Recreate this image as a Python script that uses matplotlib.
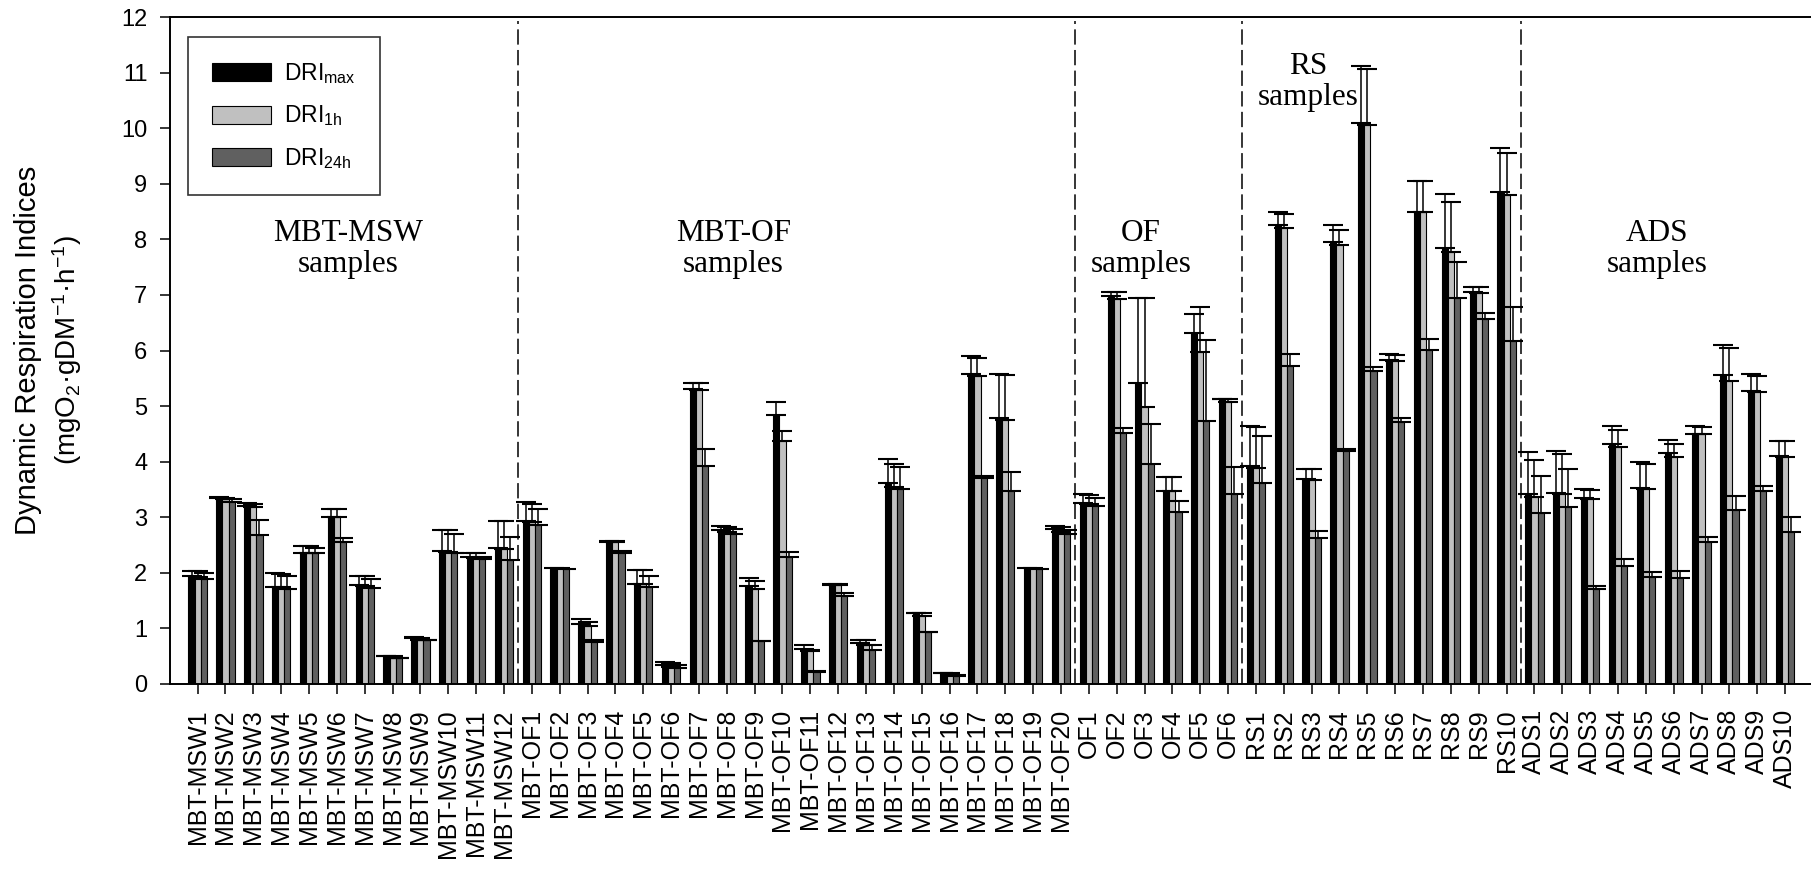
import numpy as np
import matplotlib.pyplot as plt

plt.rcParams['font.family'] = ['Liberation Sans', 'DejaVu Sans']
plt.rcParams['mathtext.default'] = 'regular'

# sample names per group
msw_names = ['MBT-MSW%d' % i for i in range(1, 13)]
mof_names = ['MBT-OF%d' % i for i in range(1, 21)]
of_names = ['OF%d' % i for i in range(1, 7)]
rs_names = ['RS%d' % i for i in range(1, 11)]
ads_names = ['ADS%d' % i for i in range(1, 11)]
labels = msw_names + mof_names + of_names + rs_names + ads_names

# DRImax (black bars)
dri_max = [1.94, 3.35, 3.21, 1.75, 2.36, 3.01, 1.79, 0.50, 0.83, 2.40, 2.29, 2.44,
           2.94, 2.08, 1.08, 2.56, 1.80, 0.34, 5.31, 2.77, 1.77, 4.84, 0.63, 1.79,
           0.73, 3.62, 1.27, 0.20, 5.58, 4.79, 2.08, 2.79,
           3.26, 6.98, 5.41, 3.48, 6.31, 5.12,
           3.93, 8.25, 3.69, 7.96, 10.10, 5.83, 8.50, 7.85, 7.05, 8.85,
           3.42, 3.44, 3.35, 4.32, 3.53, 4.16, 4.50, 5.56, 5.28, 4.10]
# DRI1h (light grey bars)
dri_1h = [1.93, 3.32, 3.18, 1.74, 2.35, 3.00, 1.77, 0.46, 0.79, 2.38, 2.27, 2.43,
          2.91, 2.08, 1.05, 2.55, 1.80, 0.31, 5.29, 2.74, 1.71, 4.38, 0.59, 1.78,
          0.71, 3.55, 1.23, 0.16, 5.54, 4.75, 2.08, 2.74,
          3.24, 6.92, 4.98, 3.47, 5.98, 5.08,
          3.88, 8.21, 3.67, 7.89, 10.06, 5.82, 8.49, 7.78, 7.04, 8.79,
          3.36, 3.41, 3.33, 4.27, 3.51, 4.08, 4.49, 5.46, 5.25, 4.08]
# DRI24h (dark grey bars)
dri_24h = [1.89, 3.27, 2.68, 1.71, 2.35, 2.56, 1.72, 0.46, 0.79, 2.35, 2.24, 2.23,
           2.86, 2.07, 0.76, 2.35, 1.74, 0.28, 3.92, 2.70, 0.77, 2.28, 0.22, 1.58,
           0.62, 3.51, 0.94, 0.15, 3.71, 3.47, 2.07, 2.70,
           3.20, 4.51, 3.96, 3.09, 4.74, 3.42,
           3.62, 5.73, 2.62, 4.20, 5.63, 4.71, 6.01, 6.94, 6.56, 6.17,
           3.08, 3.18, 1.71, 2.12, 1.93, 1.91, 2.55, 3.13, 3.48, 2.74]

nan = np.nan
# standard deviations (upper error bars only)
err_max = [0.10, 0.01, 0.04, 0.24, 0.13, 0.13, 0.16, 0.01, 0.01, 0.37, 0.07, 0.50,
           0.34, nan, 0.09, 0.01, 0.25, 0.06, 0.11, 0.08, 0.14, 0.23, 0.08, 0.01,
           0.07, 0.42, 0.00, 0.00, 0.33, 0.78, nan, 0.05,
           0.16, 0.08, 1.53, 0.25, 0.34, 0.00,
           0.72, 0.24, 0.18, 0.29, 1.01, 0.10, 0.55, 0.97, 0.10, 0.80,
           0.76, 0.75, 0.16, 0.32, 0.46, 0.23, 0.15, 0.53, 0.29, 0.27]
err_1h = [0.10, 0.03, 0.05, 0.24, 0.13, 0.14, 0.18, 0.04, 0.04, 0.39, 0.08, 0.51,
          0.33, nan, 0.07, 0.02, 0.25, 0.06, 0.12, 0.09, 0.15, 0.17, 0.02, 0.02,
          0.08, 0.40, 0.04, 0.04, 0.32, 0.81, nan, 0.08,
          0.16, 0.13, 1.96, 0.26, 0.80, 0.04,
          0.75, 0.25, 0.19, 0.27, 1.00, 0.10, 0.56, 0.89, 0.11, 0.76,
          0.67, 0.72, 0.16, 0.30, 0.44, 0.24, 0.13, 0.59, 0.30, 0.29]
err_24h = [0.10, 0.06, 0.27, 0.24, 0.09, 0.06, 0.17, 0.00, 0.01, 0.35, 0.05, 0.42,
           0.28, nan, 0.04, 0.04, 0.21, 0.06, 0.30, 0.08, 0.00, 0.10, 0.02, 0.05,
           0.08, 0.40, 0.00, 0.02, 0.04, 0.34, nan, 0.07,
           0.15, 0.09, 0.72, 0.20, 1.45, 0.48,
           0.84, 0.20, 0.14, 0.03, 0.08, 0.08, 0.20, 0.66, 0.11, 0.61,
           0.67, 0.69, 0.06, 0.13, 0.08, 0.13, 0.10, 0.26, 0.08, 0.26]

# group annotations: text, x (category index), y (value)
group_text = ['MBT-MSW\nsamples', 'MBT-OF\nsamples', 'OF\nsamples', 'RS\nsamples', 'ADS\nsamples']
group_x = [5.40, 19.24, 33.87, 39.89, 52.42]
group_y = [7.82, 7.82, 7.82, 10.83, 7.82]
group_sep = [11.5, 31.5, 37.5, 47.5]

fig = plt.figure(figsize=(18.11, 8.69), dpi=100)
ax = fig.add_axes([169.5 / 1811, 185 / 869, 1 - 169.5 / 1811, 667 / 869])

x = np.arange(len(labels))
w = 0.22
series = [(dri_max, err_max, 'black', 'DRI$_{max}$'),
          (dri_1h, err_1h, '#c0c0c0', 'DRI$_{1h}$'),
          (dri_24h, err_24h, '#606060', 'DRI$_{24h}$')]

handles = []
for k, (vals, errs, col, lab) in enumerate(series):
    h = ax.bar(x + (k - 1) * w, vals, w, color=col, edgecolor='black',
               linewidth=0.8, label=lab, zorder=2)
    handles.append(h)

# error bars drawn above all bars
for k, (vals, errs, col, lab) in enumerate(series):
    errs = np.array(errs, dtype=float)
    ax.errorbar(x + (k - 1) * w, vals, yerr=[np.zeros_like(errs), errs],
                fmt='none', ecolor='black', elinewidth=1.1, capsize=7.2,
                capthick=1.5, zorder=3)

for xs in group_sep:
    ax.plot([xs, xs], [0, 11.93], color='black', lw=1.1,
            linestyle=(0, (10, 3.5)), zorder=1)

for txt, gx, gy in zip(group_text, group_x, group_y):
    ax.text(gx, gy, txt, ha='center', va='center', fontsize=22.5,
            family='Liberation Serif', linespacing=1.1)

ax.set_xlim(-1.01, 57.93)
ax.set_ylim(0, 12)
ax.set_yticks(range(0, 13))
ax.set_xticks(x)
ax.set_xticklabels(labels, rotation=90, fontsize=18)
ax.tick_params(axis='y', labelsize=17, length=7, width=1.1, pad=9)
ax.tick_params(axis='x', length=7, width=1.1, pad=11)
for side in ['left', 'bottom', 'top']:
    ax.spines[side].set_linewidth(1.4)
ax.spines['right'].set_visible(False)

fig.text(28 / 1811, 0.597, 'Dynamic Respiration Indices', rotation=90,
         ha='center', va='center', fontsize=21)
fig.text(67 / 1811, 0.597, '(mgO$_2$·gDM$^{-1}$·h$^{-1}$)', rotation=90,
         ha='center', va='center', fontsize=20)

leg = ax.legend(handles=handles, loc='upper left', bbox_to_anchor=(0.011, 0.9705),
                borderaxespad=0, fontsize=16.5, frameon=True, fancybox=False,
                handlelength=2.58, handleheight=0.83, handletextpad=0.6,
                labelspacing=0.78, borderpad=1.05)
leg.get_frame().set_edgecolor('black')
leg.get_frame().set_linewidth(1.2)

fig.savefig('out.png', dpi=100)
